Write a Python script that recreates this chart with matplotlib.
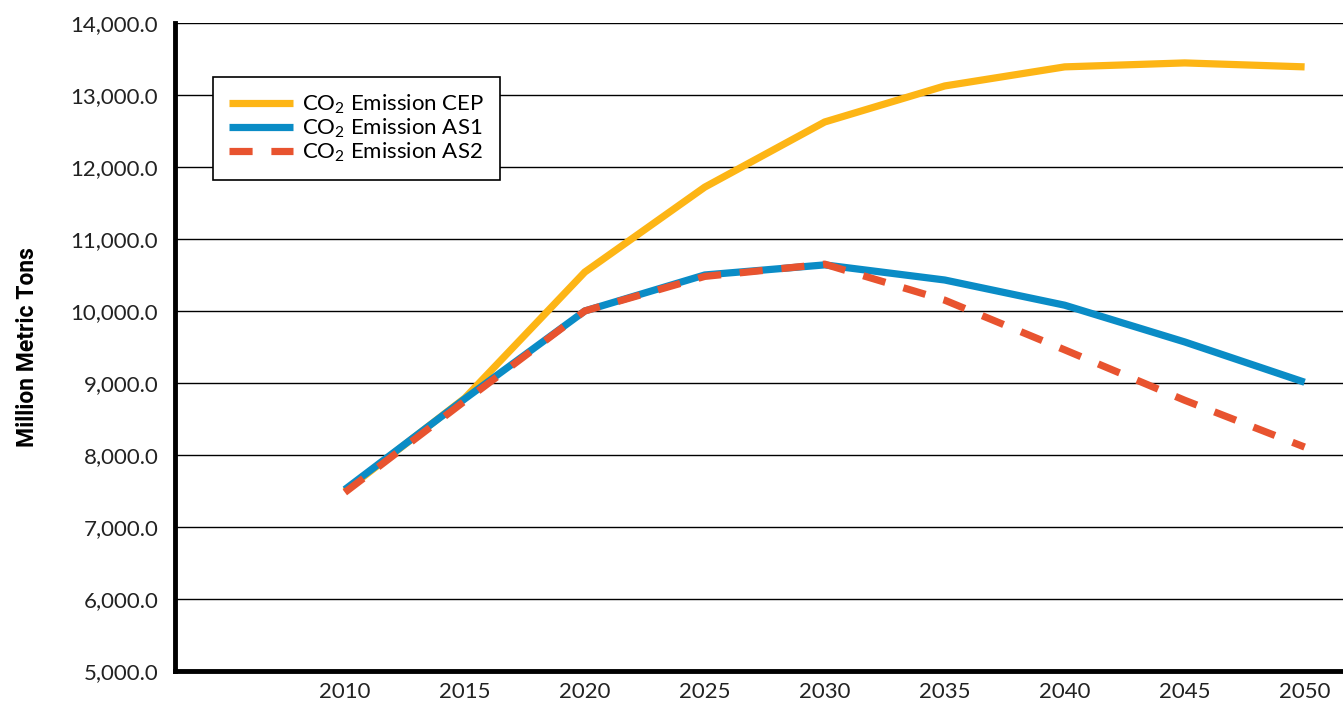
import matplotlib
matplotlib.use("Agg")
import matplotlib.pyplot as plt
from matplotlib.ticker import FuncFormatter

plt.rcParams['font.family'] = ['Lato', 'DejaVu Sans']
plt.rcParams['mathtext.fontset'] = 'custom'
plt.rcParams['mathtext.rm'] = 'Lato'
plt.rcParams['mathtext.it'] = 'Lato'

# Emisiones de CO2 por escenario (millones de toneladas)
years = [2010, 2015, 2020, 2025, 2030, 2035, 2040, 2045, 2050]
cep = [7500, 8790, 10540, 11720, 12625, 13125, 13390, 13445, 13390]
as1 = [7520, 8780, 10000, 10500, 10640, 10430, 10080, 9570, 9010]
as2 = [7480, 8750, 10000, 10480, 10650, 10150, 9460, 8760, 8110]

fig = plt.figure(figsize=(13.43, 7.02), dpi=100)
ax = fig.add_axes([0.1303, 0.0442, 0.8697, 0.9231])

ax.plot(years, cep, color="#FDB515", lw=5.2, label="CO$_2$ Emission CEP", solid_capstyle="butt")
ax.plot(years, as1, color="#0A8CC6", lw=5.2, label="CO$_2$ Emission AS1", solid_capstyle="butt")
ax.plot(years, as2, color="#E8532F", lw=5.2, dashes=(3.2, 2.6), label="CO$_2$ Emission AS2")

ax.set_ylim(5000, 14000)
ax.set_xlim(2002.92, 2051.6)
ax.set_yticks(range(5000, 14001, 1000))
ax.set_xticks(years)
ax.yaxis.set_major_formatter(FuncFormatter(lambda v, p: f"{v:,.1f}"))
ax.tick_params(length=0, labelsize=16, colors="#222222", pad=12)
ax.tick_params(axis="x", pad=8)

ax.grid(axis="y", color="black", lw=1.0)
ax.set_axisbelow(True)
for s in ["top", "right"]:
    ax.spines[s].set_visible(False)
for s in ["left", "bottom"]:
    ax.spines[s].set_linewidth(3.5)

ax.set_ylabel("Million Metric Tons", fontsize=16.5, fontweight="bold",
              family=["Roboto", "DejaVu Sans"], labelpad=23)

leg = ax.legend(loc="upper left", bbox_to_anchor=(0.0325, 0.917), borderaxespad=0,
                fontsize=16, frameon=True, fancybox=False, handlelength=2.9,
                handletextpad=0.4, labelspacing=0.05, borderpad=0.7)
leg.get_frame().set_edgecolor("black")
leg.get_frame().set_linewidth(1.2)
leg.get_frame().set_alpha(1)

fig.savefig("out.png", dpi=100)
